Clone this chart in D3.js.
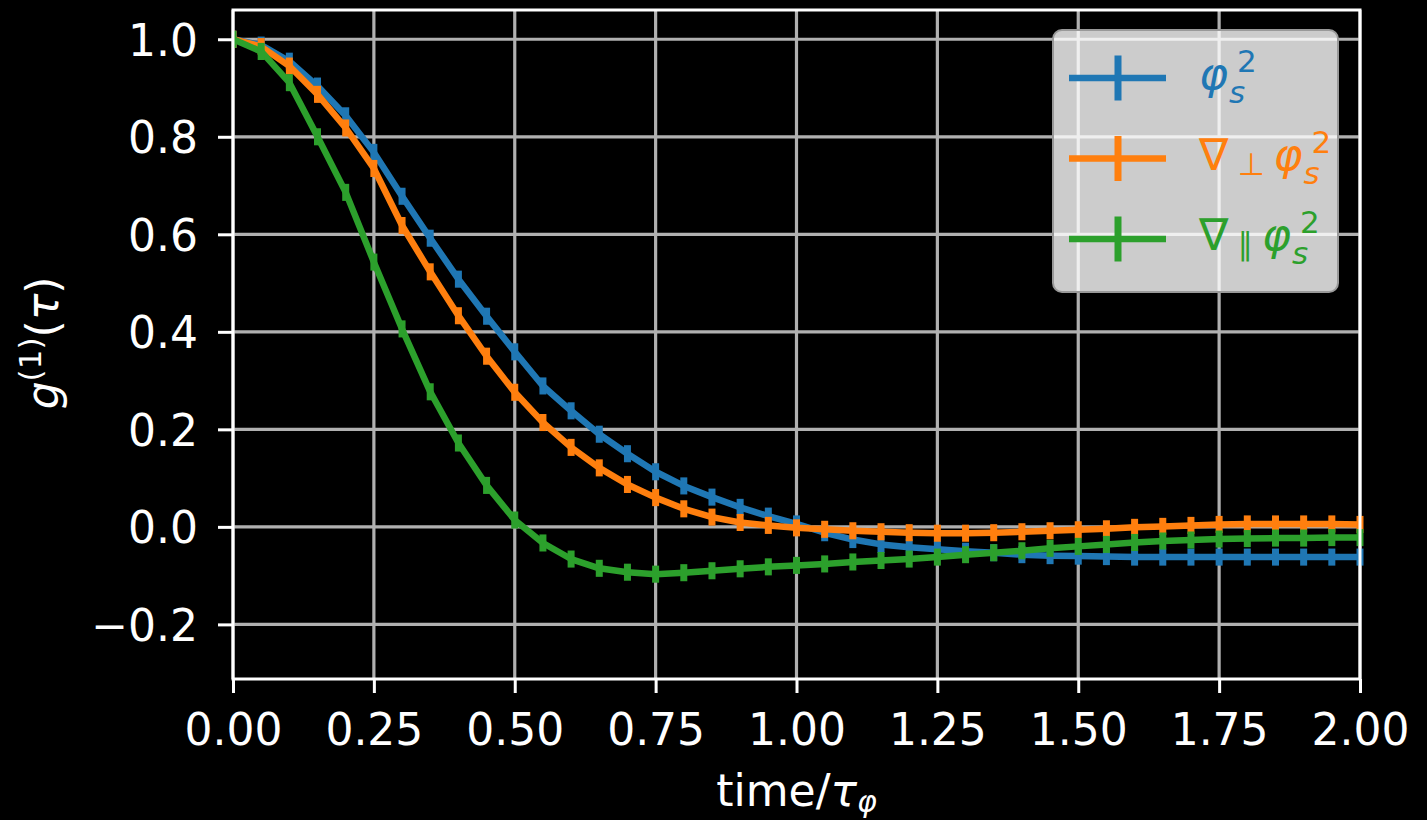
<!DOCTYPE html>
<html>
<head>
<meta charset="utf-8">
<script src="https://cdn.jsdelivr.net/npm/d3@7"></script>
<style>
  html, body { margin: 0; padding: 0; background: #000; }
  svg { display: block; }
  text { font-family: "DejaVu Sans", sans-serif; }
</style>
</head>
<body>
<svg id="chart" width="1427" height="820"></svg>
<script>
// ---- data ----
const times = [0.00,0.05,0.10,0.15,0.20,0.25,0.30,0.35,0.40,0.45,0.50,0.55,0.60,0.65,0.70,0.75,0.80,0.85,0.90,0.95,
               1.00,1.05,1.10,1.15,1.20,1.25,1.30,1.35,1.40,1.45,1.50,1.55,1.60,1.65,1.70,1.75,1.80,1.85,1.90,1.95,2.00];
const phiS2 = [1.000,0.988,0.955,0.904,0.843,0.768,0.678,0.592,0.508,0.432,0.359,0.289,0.238,0.190,0.150,0.113,0.084,0.061,0.040,0.022,
               0.006,-0.012,-0.026,-0.036,-0.042,-0.046,-0.050,-0.053,-0.057,-0.059,-0.060,-0.061,-0.062,-0.062,-0.062,-0.062,-0.062,-0.062,-0.062,-0.062,-0.062];
const gradPerp = [1.000,0.985,0.945,0.887,0.818,0.735,0.618,0.523,0.433,0.350,0.276,0.214,0.163,0.121,0.087,0.060,0.037,0.020,0.009,0.003,
                  -0.002,-0.005,-0.008,-0.010,-0.012,-0.013,-0.013,-0.012,-0.010,-0.008,-0.006,-0.004,-0.001,0.001,0.003,0.005,0.006,0.006,0.006,0.006,0.005];
const gradPar = [1.000,0.975,0.911,0.800,0.686,0.543,0.406,0.277,0.172,0.085,0.014,-0.033,-0.066,-0.085,-0.093,-0.097,-0.094,-0.090,-0.086,-0.082,
                 -0.079,-0.076,-0.072,-0.069,-0.066,-0.062,-0.057,-0.053,-0.049,-0.044,-0.040,-0.036,-0.032,-0.029,-0.027,-0.025,-0.024,-0.023,-0.023,-0.022,-0.022];
const errHalf = 0.0175;
const xTicks = [0, 0.25, 0.5, 0.75, 1.0, 1.25, 1.5, 1.75, 2.0];
const yTicks = [-0.2, 0.0, 0.2, 0.4, 0.6, 0.8, 1.0];
const seriesNames = ["phiS2", "gradPerp", "gradPar"];
const seriesColors = ["#1f77b4", "#ff7f0e", "#2ca02c"];

// ---- layout ----
const W = 1427, H = 820;
const margin = {left: 233, top: 10, right: 67, bottom: 141};
const svg = d3.select("#chart");
const x = d3.scaleLinear().domain([0, 2]).range([margin.left, W - margin.right]);
const y = d3.scaleLinear().domain([-0.312, 1.060]).range([H - margin.bottom, margin.top]);
const FS = 44;

// grid
const grid = svg.append("g");
grid.selectAll("line.gx").data(xTicks).join("line")
  .attr("x1", d => x(d)).attr("x2", d => x(d))
  .attr("y1", y.range()[0]).attr("y2", y.range()[1])
  .attr("stroke", "#b0b0b0").attr("stroke-width", 3.2);
grid.selectAll("line.gy").data(yTicks).join("line")
  .attr("y1", d => y(d)).attr("y2", d => y(d))
  .attr("x1", x.range()[0]).attr("x2", x.range()[1])
  .attr("stroke", "#b0b0b0").attr("stroke-width", 3.2);

// axes
const fmtX = d3.format(".2f");
const fmtY = v => d3.format(".1f")(v).replace("-", "\u2212");
const xAxis = svg.append("g").attr("transform", `translate(0,${y.range()[0]})`)
  .call(d3.axisBottom(x).tickValues(xTicks).tickFormat(fmtX).tickSize(14).tickPadding(19));
const yAxis = svg.append("g").attr("transform", `translate(${x.range()[0]},0)`)
  .call(d3.axisLeft(y).tickValues(yTicks).tickFormat(fmtY).tickSize(15).tickPadding(20));
[xAxis, yAxis].forEach(a => {
  a.select(".domain").remove();
  a.selectAll(".tick line").attr("stroke", "#fff").attr("stroke-width", 3);
  a.selectAll(".tick text").attr("fill", "#fff").attr("font-size", FS)
    .attr("font-family", "DejaVu Sans");
});
yAxis.selectAll(".tick text").attr("dy", "0.36em");
xAxis.selectAll(".tick text").attr("dy", "0.74em");

// series
const clip = svg.append("clipPath").attr("id", "clip").append("rect")
  .attr("x", x.range()[0]).attr("y", y.range()[1] - 20)
  .attr("width", x.range()[1] - x.range()[0] + 6).attr("height", y.range()[0] - y.range()[1] + 20);
const dataSets = [phiS2, gradPerp, gradPar];
const lineGen = d3.line().x(d => x(d[0])).y(d => y(d[1]));
const plot = svg.append("g").attr("clip-path", "url(#clip)");
dataSets.forEach((vals, i) => {
  const pts = times.map((t, k) => [t, vals[k]]);
  plot.append("path").datum(pts).attr("d", lineGen)
    .attr("fill", "none").attr("stroke", seriesColors[i]).attr("stroke-width", 6.5)
    .attr("stroke-linejoin", "round").attr("stroke-linecap", "butt");
  plot.append("g").selectAll("line").data(pts).join("line")
    .attr("x1", d => x(d[0])).attr("x2", d => x(d[0]))
    .attr("y1", d => y(d[1] - errHalf)).attr("y2", d => y(d[1] + errHalf))
    .attr("stroke", seriesColors[i]).attr("stroke-width", 7);
});

// spines
svg.append("rect")
  .attr("x", x.range()[0]).attr("y", y.range()[1])
  .attr("width", x.range()[1] - x.range()[0]).attr("height", y.range()[0] - y.range()[1])
  .attr("fill", "none").attr("stroke", "#fff").attr("stroke-width", 3);

// axis labels
const xl = svg.append("text").attr("x", (x.range()[0] + x.range()[1]) / 2).attr("y", 806)
  .attr("text-anchor", "middle").attr("fill", "#fff").attr("font-size", FS);
xl.append("tspan").text("time/");
xl.append("tspan").attr("font-style", "italic").text("\u03c4");
xl.append("tspan").attr("font-style", "italic").attr("font-size", 30).attr("dy", 6).text("\u03c6");

const yl = svg.append("text").attr("transform", "translate(58,343) rotate(-90)")
  .attr("text-anchor", "middle").attr("fill", "#fff").attr("font-size", FS);
yl.append("tspan").attr("font-style", "italic").text("g");
yl.append("tspan").attr("font-size", 31).attr("dy", -17).text("(1)");
yl.append("tspan").attr("dy", 17).text("(");
yl.append("tspan").attr("font-style", "italic").text("\u03c4");
yl.append("tspan").text(")");

// legend
const lg = svg.append("g");
lg.append("rect").attr("x", 1053).attr("y", 30).attr("width", 285).attr("height", 262)
  .attr("rx", 9).attr("fill", "#fff").attr("fill-opacity", 0.8)
  .attr("stroke", "#999").attr("stroke-width", 2);
const legendRows = [
  {sub: null},
  {sub: "\u22a5"},
  {sub: "\u2225"}
];
function measure(txt, size, italic) {
  const t = svg.append("text").attr("font-size", size)
    .attr("font-style", italic ? "italic" : "normal").text(txt);
  const w = t.node().getComputedTextLength();
  t.remove();
  return w;
}
legendRows.forEach((r, i) => {
  const cy = 78 + i * 80.5;
  const col = seriesColors[i];
  lg.append("line").attr("x1", 1069).attr("x2", 1166).attr("y1", cy).attr("y2", cy)
    .attr("stroke", col).attr("stroke-width", 6.5);
  lg.append("line").attr("x1", 1118).attr("x2", 1118).attr("y1", cy - 22.5).attr("y2", cy + 22.5)
    .attr("stroke", col).attr("stroke-width", 7);
  const base = cy + 11;
  let cx = 1199;
  if (r.sub) {
    lg.append("text").attr("x", cx).attr("y", base).attr("fill", col).attr("font-size", FS).text("\u2207");
    cx += measure("\u2207", FS, false) + 9;
    lg.append("text").attr("x", cx).attr("y", base + 5).attr("fill", col).attr("font-size", 31).text(r.sub);
    cx += measure(r.sub, 31, false) + 9;
  }
  lg.append("text").attr("x", cx).attr("y", base).attr("fill", col).attr("font-size", FS)
    .attr("font-style", "italic").text("\u03c6");
  const pw = measure("\u03c6", FS, true);
  lg.append("text").attr("x", cx + pw + 1).attr("y", base + 14).attr("fill", col).attr("font-size", 31)
    .attr("font-style", "italic").text("s");
  lg.append("text").attr("x", cx + pw + 9).attr("y", base - 17).attr("fill", col).attr("font-size", 31)
    .text("2");
});
</script>
</body>
</html>
